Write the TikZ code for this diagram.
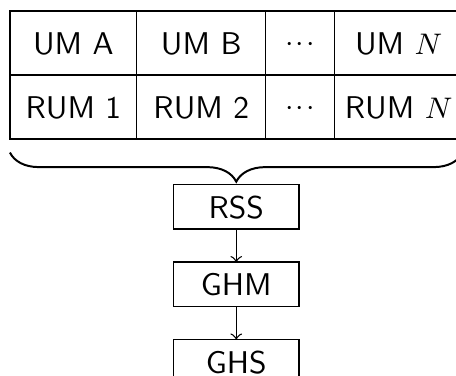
\documentclass[tikz,border=0pt]{standalone}
\usepackage{tikz}
\usetikzlibrary{calc,positioning,decorations.pathreplacing}
\newcommand{\celldots}{\raisebox{1pt}{$\cdotp\mkern-2mu\cdotp\mkern-2mu\cdotp$}}
\tikzset{
	cell/.style={draw, outer sep=0pt, inner sep=0pt, minimum height=19.35pt, text height=7pt, text depth=0pt, font=\sffamily\fontsize{9.5pt}{11pt}\selectfont},
	stage/.style={draw, outer sep=0pt, inner sep=0pt, minimum width=37.9pt, minimum height=13.4pt, text height=7pt, text depth=0pt, font=\sffamily\fontsize{9.5pt}{11pt}\selectfont},
}

\begin{document}
\begin{tikzpicture}
		%%%%% START %%%%%
		\useasboundingbox (0,0) rectangle (137.8pt,-113.6pt);
		
		\node[cell, minimum width=38.35pt, anchor=north west] (um-a) at (3pt,-3.3pt) {UM A};
		\node[cell, minimum width=38.95pt, right=0pt of um-a] (um-b) {UM B};
		\node[cell, minimum width=20.85pt, right=0pt of um-b] (um-dots) {\celldots};
		\node[cell, minimum width=38.65pt, right=0pt of um-dots] (um-n) {UM $N$};
		
		\node[cell, minimum width=38.35pt, below=0pt of um-a] (rum-1) {RUM 1};
		\node[cell, minimum width=38.95pt, right=0pt of rum-1] (rum-2) {RUM 2};
		\node[cell, minimum width=20.85pt, right=0pt of rum-2] (rum-dots) {\celldots};
		\node[cell, minimum width=38.65pt, right=0pt of rum-dots] (rum-n) {RUM $N$};
		
		\draw[semithick, decorate, decoration={brace, mirror, amplitude=8.8pt, raise=4.1pt}] (rum-1.south west) -- (rum-n.south east);
		\coordinate (tbl-bottom) at ($(rum-1.south west)!0.5!(rum-n.south east)$);
		
		\node[stage, below=13.8pt of tbl-bottom] (rss) {RSS};
		\node[stage, below=10pt of rss] (ghm) {GHM};
		\node[stage, below=10pt of ghm] (ghs) {GHS};
		
		\draw[->] (rss) -- (ghm);
		\draw[->] (ghm) -- (ghs);
		
		%%%%% END %%%%%
	\end{tikzpicture}
\end{document}
